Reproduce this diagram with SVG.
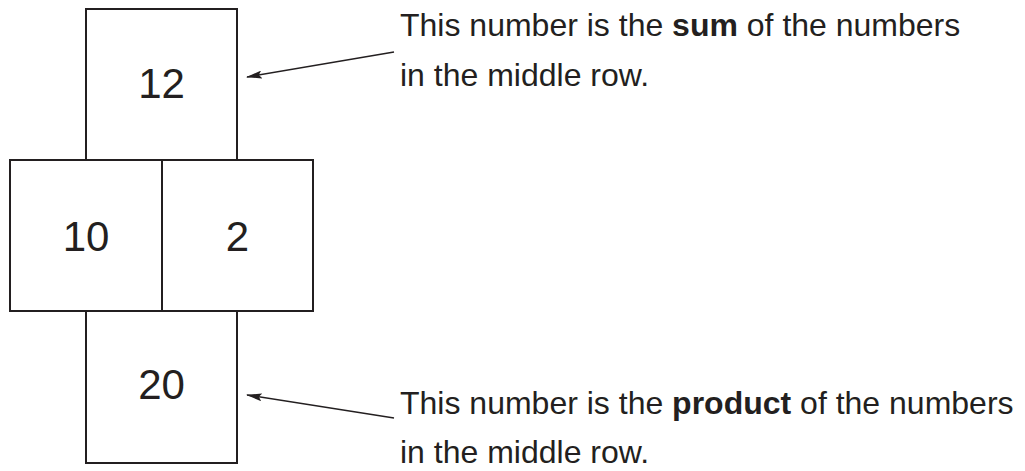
<svg xmlns="http://www.w3.org/2000/svg" width="1025" height="471" viewBox="0 0 1025 471">
<style>
.box{fill:#fff;stroke:#231f20;stroke-width:2}
.num{font-family:"Liberation Sans",Arial,sans-serif;font-size:42px;fill:#231f20;text-anchor:middle}
.lbl{font-family:"Liberation Sans",Arial,sans-serif;font-size:32px;fill:#231f20}
.conn{stroke:#231f20;stroke-width:1.5;fill:none;marker-end:url(#ah)}
</style>
<defs>
<marker id="ah" viewBox="0 0 16 8" refX="15" refY="4" markerWidth="16" markerHeight="8" markerUnits="userSpaceOnUse" orient="auto">
<path d="M0,0 L16,4 L0,8 L3,4 Z" fill="#231f20"/>
</marker>
</defs>
<rect width="1025" height="471" fill="#fff"/>
<g id="top"><rect class="box" x="86" y="9" width="151" height="151"/><text class="num" x="161.5" y="98">12</text></g>
<g id="left"><rect class="box" x="10" y="160" width="152" height="151"/><text class="num" x="86" y="251">10</text></g>
<g id="right"><rect class="box" x="162" y="160" width="151" height="151"/><text class="num" x="237.5" y="251">2</text></g>
<g id="bottom"><rect class="box" x="86" y="311" width="151" height="152"/><text class="num" x="161.5" y="399">20</text></g>
<g id="connectors">
<line class="conn" x1="394" y1="52" x2="247" y2="77"/>
<line class="conn" x1="394" y1="418" x2="247" y2="395"/>
</g>
<g id="label-sum"><text class="lbl" x="400" y="36">This number is the <tspan font-weight="bold">sum</tspan> of the numbers</text><text class="lbl" x="400" y="86">in the middle row.</text></g>
<g id="label-product"><text class="lbl" x="400" y="414">This number is the <tspan font-weight="bold">product</tspan> of the numbers</text><text class="lbl" x="400" y="463">in the middle row.</text></g>
</svg>
